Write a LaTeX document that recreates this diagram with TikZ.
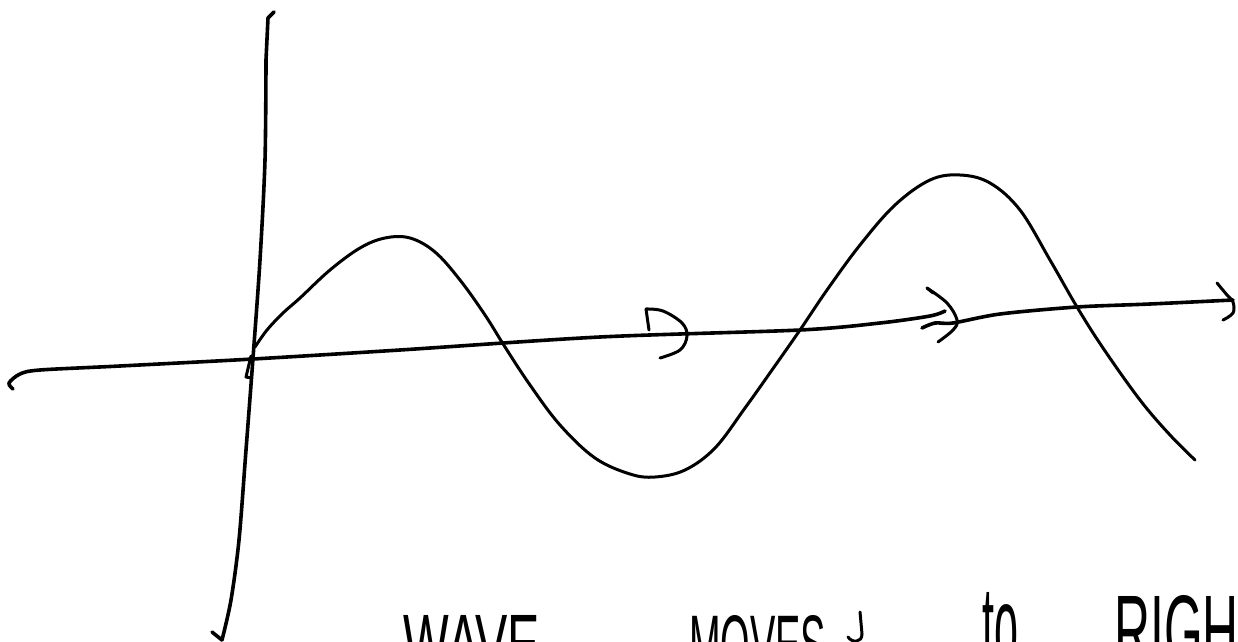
\documentclass[tikz,border=0pt]{standalone}
\usepackage{graphicx}
\usepackage{fontspec}
\setmainfont{Liberation Sans}
\begin{document}
\begin{tikzpicture}[x=0.05cm,y=-0.05cm,
  ink/.style={line width=0.15cm, line cap=round, line join=round},
  axisink/.style={ink, line width=0.18cm},
  hand/.style={inner sep=0pt, anchor=north west}]
\useasboundingbox (0,0) rectangle (1238,642);
\clip (0,0) rectangle (1238,642);
% vertical axis
\draw[axisink] (274,12) -- (268,18) -- (266,60);
\draw[axisink] plot[smooth,tension=0.5] coordinates {(266,60) (265,160) (260,260) (253,358) (246,450) (239,540) (231,600) (222,640)};
\draw[axisink] (222,640) -- (212,632);
\draw[ink] (251,356) -- (246,377) -- (251,378);
% horizontal axis, main stroke
\draw[axisink] plot[smooth,tension=0.5] coordinates {(13,389) (9,383) (20,374) (40,370) (120,366) (253,359) (400,350) (600,337) (800,330) (880,323) (930,316) (945,311)};
% horizontal axis, right stroke
\draw[axisink] plot[smooth,tension=0.5] coordinates {(922,328) (935,323) (953,323) (1000,314) (1077,307) (1150,304) (1233,300)};
% arrowheads
\draw[ink] (649,330) -- (646,309);
\draw[ink] plot[smooth,tension=0.6] coordinates {(646,309) (663,311) (682,323) (687,336) (680,350) (660,358)};
\draw[ink] (927,288) -- (933,293);
\draw[ink] plot[smooth,tension=0.6] coordinates {(927,288) (947,303) (957,320) (953,330) (938,342)};
\draw[ink] plot[smooth,tension=0.6] coordinates {(1217,283) (1227,295) (1233,302) (1233,313) (1223,320)};
% wave
\draw[ink] plot[smooth,tension=0.6] coordinates {(255,347) (267,330) (283,313) (300,298) (330,270) (360,248) (385,238) (410,238) (435,252) (460,280) (485,315) (505,347) (530,385) (560,425) (595,458) (630,474) (655,477) (685,470) (715,448) (745,408) (772,370) (800,330) (827,290) (860,245) (895,205) (930,180) (960,175) (990,183) (1020,210) (1050,260) (1077,307) (1103,348) (1140,400) (1170,435) (1195,460)};
% handwritten caption
\node[hand] (w1) at (403,615) {\resizebox{6.85cm}{2.9cm}{WAVE}};
\node[hand] (w2) at (689,615) {\resizebox{6.85cm}{2.9cm}{MOVES}};
\draw[ink] (860,612) -- (862,634) .. controls (862,643) and (852,643) .. (848,637);
\node[hand] (w3) at (982,592) {\resizebox{1.8cm}{3.6cm}{to}};
\node[hand] (w4) at (1114,595) {\resizebox{7.75cm}{3.5cm}{RIGHT}};
\end{tikzpicture}
\end{document}
